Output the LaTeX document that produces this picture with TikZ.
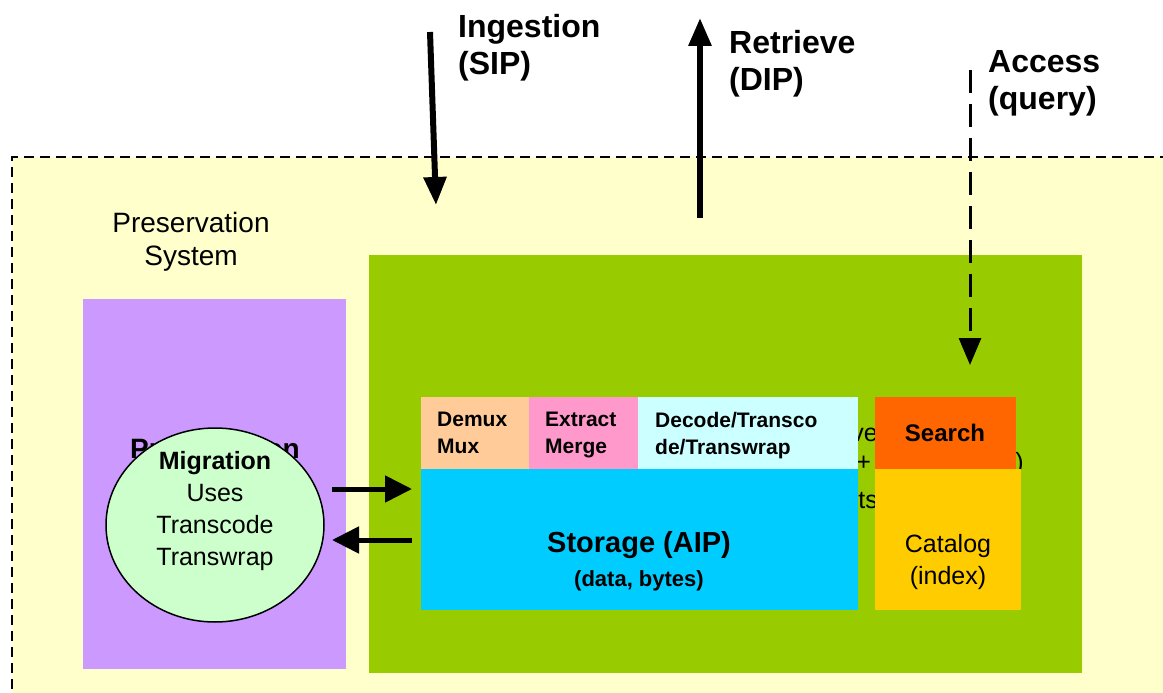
\documentclass[tikz,border=0pt]{standalone}
\usepackage{fontspec}
\setmainfont{Liberation Sans}
\usetikzlibrary{arrows.meta,positioning,shapes.geometric}
\definecolor{sysyellow}{HTML}{FFFFCC}
\definecolor{preslilac}{HTML}{CC99FF}
\definecolor{archgreen}{HTML}{99CC00}
\definecolor{demuxpeach}{HTML}{FFCC99}
\definecolor{extractpink}{HTML}{FF99CC}
\definecolor{decodecyan}{HTML}{CCFFFF}
\definecolor{storeblue}{HTML}{00CCFF}
\definecolor{searchorange}{HTML}{FF6600}
\definecolor{catgold}{HTML}{FFCC00}
\definecolor{migrmint}{HTML}{CCFFCC}
\tikzset{
  block/.style={draw=none,inner sep=0pt,outer sep=0pt,anchor=north west},
  toplbl/.style={font=\fontsize{32}{37}\selectfont\bfseries,align=left,inner sep=0pt,anchor=north west},
  celllbl/.style={font=\fontsize{21}{27}\selectfont\bfseries,align=left,inner sep=0pt,anchor=north west},
  bigflow/.style={line width=6pt,-{Triangle[length=28pt,width=22pt]}},
  sideflow/.style={line width=5pt,-{Triangle[length=27pt,width=26pt]}},
}
\begin{document}
\begin{tikzpicture}[x=1pt,y=-1pt,line join=miter]
  \useasboundingbox (0,0) rectangle (1163,693);
  \clip (0,0) rectangle (1163,693);
  % preservation system area
  \fill[sysyellow] (12,157) rectangle (1175,705);
  \draw[line width=1.8pt,dash pattern=on 10pt off 6pt] (12,705) -- (12,157) -- (1175,157);
  \node[font=\fontsize{28}{33}\selectfont,align=center,inner sep=0pt,anchor=north] (syslbl) at (191,212) {Preservation\\System};

  % preservation box with migration
  \node[block,fill=preslilac,minimum width=263pt,minimum height=370pt] (pres) at (83,299) {};
  \node[font=\fontsize{28}{32}\selectfont\bfseries,inner sep=0pt] (preslbl) at (215,448) {Preservation};
  \node[ellipse,draw,line width=1.5pt,fill=migrmint,minimum width=218pt,minimum height=194pt,inner sep=0pt] (migr) at (215,525) {};
  \node[font=\fontsize{25}{32}\selectfont,align=center,inner sep=0pt] (migrlbl) at (215,511) {\textbf{Migration}\\Uses\\Transcode\\Transwrap};

  % archive box
  \node[block,fill=archgreen,minimum width=713pt,minimum height=418pt] (arch) at (369,255) {};
  \node[font=\fontsize{25}{30}\selectfont,inner sep=0pt,anchor=base east] (archA) at (878,441) {Preservation Archive};
  \node[font=\fontsize{25}{30}\selectfont,inner sep=0pt,anchor=base east] (archB) at (1024,470) {(Essence + Descriptions)};
  \node[font=\fontsize{25}{30}\selectfont,inner sep=0pt,anchor=base east] (archC) at (878,508) {Stored Objects};

  \node[block,fill=demuxpeach,minimum width=108pt,minimum height=72pt] (demux) at (421,397) {};
  \node[block,fill=extractpink,minimum width=109pt,minimum height=72pt] (extract) at (529,397) {};
  \node[block,fill=decodecyan,minimum width=220pt,minimum height=72pt] (decode) at (638,397) {};
  \node[block,fill=storeblue,minimum width=437pt,minimum height=141pt] (storage) at (421,469) {};
  \node[block,fill=searchorange,minimum width=141pt,minimum height=72pt] (search) at (875,397) {};
  \node[block,fill=catgold,minimum width=146pt,minimum height=141pt] (catalog) at (875,469) {};

  \node[celllbl] (demuxlbl) at (437,412) {Demux\\Mux};
  \node[celllbl] (extractlbl) at (545,412) {Extract\\Merge};
  \node[celllbl] (decodelbl) at (655,412) {Decode/Transco\\de/Transwrap};
  \node[font=\fontsize{22}{34}\selectfont\bfseries,align=center,inner sep=0pt,anchor=base] (storelbl) at (639,586) {{\fontsize{29}{34}\selectfont Storage (AIP)}\\(data, bytes)};
  \node[font=\fontsize{24}{28}\selectfont\bfseries,inner sep=0pt] (searchlbl) at (945,433) {Search};
  \node[font=\fontsize{25}{32}\selectfont,align=center,inner sep=0pt] (catlbl) at (948,562) {Catalog\\(index)};

  % flows in and out
  \node[toplbl] (inglbl) at (458,14) {Ingestion\\(SIP)};
  \node[toplbl] (retlbl) at (729,30) {Retrieve\\(DIP)};
  \node[toplbl] (acclbl) at (988,50) {Access\\(query)};
  \coordinate (ingtop) at (430,32);
  \coordinate (ingend) at (436,205);
  \coordinate (retbot) at (700,218);
  \coordinate (rettop) at (700,18);
  \coordinate (acctop) at (970,70);
  \draw[bigflow] (ingtop) -- (ingend);
  \draw[bigflow] (retbot) -- (rettop);
  \draw[line width=3pt,dash pattern=on 23pt off 11pt,-{Triangle[length=27pt,width=22pt]},shorten >=32pt] (acctop) -- (acctop |- search.north);

  \coordinate (migrout) at (332,489);
  \coordinate (migrin) at (332,540);
  \draw[sideflow,shorten >=9pt] (migrout) -- (storage.west |- migrout);
  \draw[sideflow,shorten <=9pt] (storage.west |- migrin) -- (migrin);
\end{tikzpicture}
\end{document}
